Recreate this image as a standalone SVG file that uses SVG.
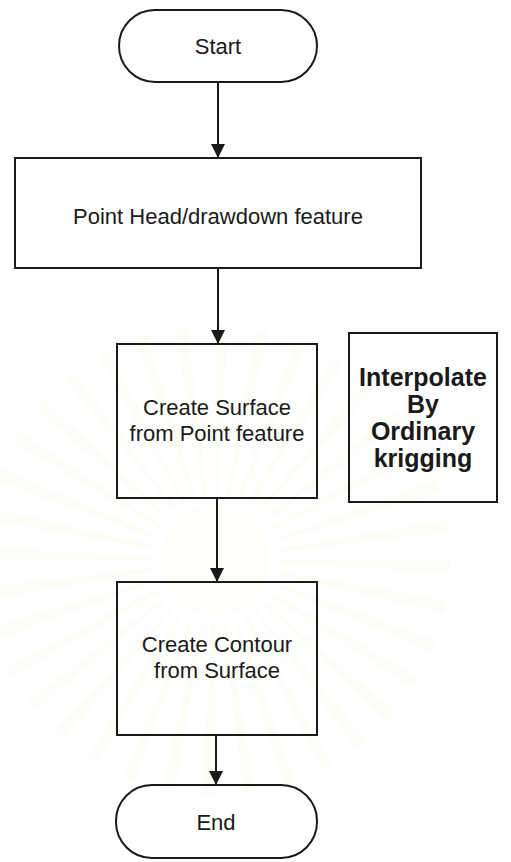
<svg xmlns="http://www.w3.org/2000/svg" width="511" height="862" viewBox="0 0 511 862">
  <defs>
    <marker id="arrow" viewBox="0 0 14 16" refX="14" refY="8" markerWidth="15" markerHeight="16" markerUnits="userSpaceOnUse" orient="auto">
      <path d="M0,1 L14,8 L0,15 Z" fill="#1a1a1a"/>
    </marker>
    <style>
      .shape { fill: none; stroke: #1a1a1a; stroke-width: 2; }
      .label { font-family: "Liberation Sans", Arial, sans-serif; font-size: 22px; fill: #1a1a1a; text-anchor: middle; }
      .bold { font-weight: bold; font-size: 25px; }
      .edge { stroke: #1a1a1a; stroke-width: 2; fill: none; marker-end: url(#arrow); }
      .rays { fill: none; stroke: #f2e2ad; stroke-opacity: 0.1; }
    </style>
  </defs>

  <rect width="511" height="862" fill="#ffffff"/>

  <!-- pale seal behind the lower steps -->
  <g id="seal">
    <circle class="rays" cx="215" cy="560" r="150" stroke-width="170" stroke-dasharray="8 18.18"/>
    <circle cx="215" cy="560" r="55" fill="#f7edcc" fill-opacity="0.1"/>
  </g>

  <!-- connectors -->
  <g id="connectors">
    <line class="edge" x1="218" y1="82" x2="218" y2="158"/>
    <line class="edge" x1="218" y1="268" x2="218" y2="344"/>
    <line class="edge" x1="217" y1="498" x2="217" y2="582"/>
    <line class="edge" x1="216" y1="735" x2="216" y2="785"/>
  </g>

  <!-- start terminator -->
  <g id="start">
    <rect class="shape" x="119" y="10" width="198" height="72" rx="36" ry="36"/>
    <text class="label" x="218" y="54">Start</text>
  </g>

  <!-- point feature step -->
  <g id="point-feature">
    <rect class="shape" x="15" y="158" width="406" height="110"/>
    <text class="label" x="218" y="224">Point Head/drawdown feature</text>
  </g>

  <!-- surface step -->
  <g id="create-surface">
    <rect class="shape" x="117" y="344" width="200" height="154"/>
    <text class="label" x="217" y="415">Create Surface</text>
    <text class="label" x="217" y="441">from Point feature</text>
  </g>

  <!-- interpolation note -->
  <g id="interpolate">
    <rect class="shape" x="349" y="333" width="148" height="169"/>
    <text class="label bold" x="423" y="386">Interpolate</text>
    <text class="label bold" x="423" y="413">By</text>
    <text class="label bold" x="423" y="440">Ordinary</text>
    <text class="label bold" x="423" y="467">krigging</text>
  </g>

  <!-- contour step -->
  <g id="create-contour">
    <rect class="shape" x="117" y="582" width="200" height="153"/>
    <text class="label" x="217" y="652">Create Contour</text>
    <text class="label" x="217" y="678">from Surface</text>
  </g>

  <!-- end terminator -->
  <g id="end">
    <rect class="shape" x="116" y="785" width="201" height="73" rx="36" ry="36"/>
    <text class="label" x="216" y="830">End</text>
  </g>
</svg>
